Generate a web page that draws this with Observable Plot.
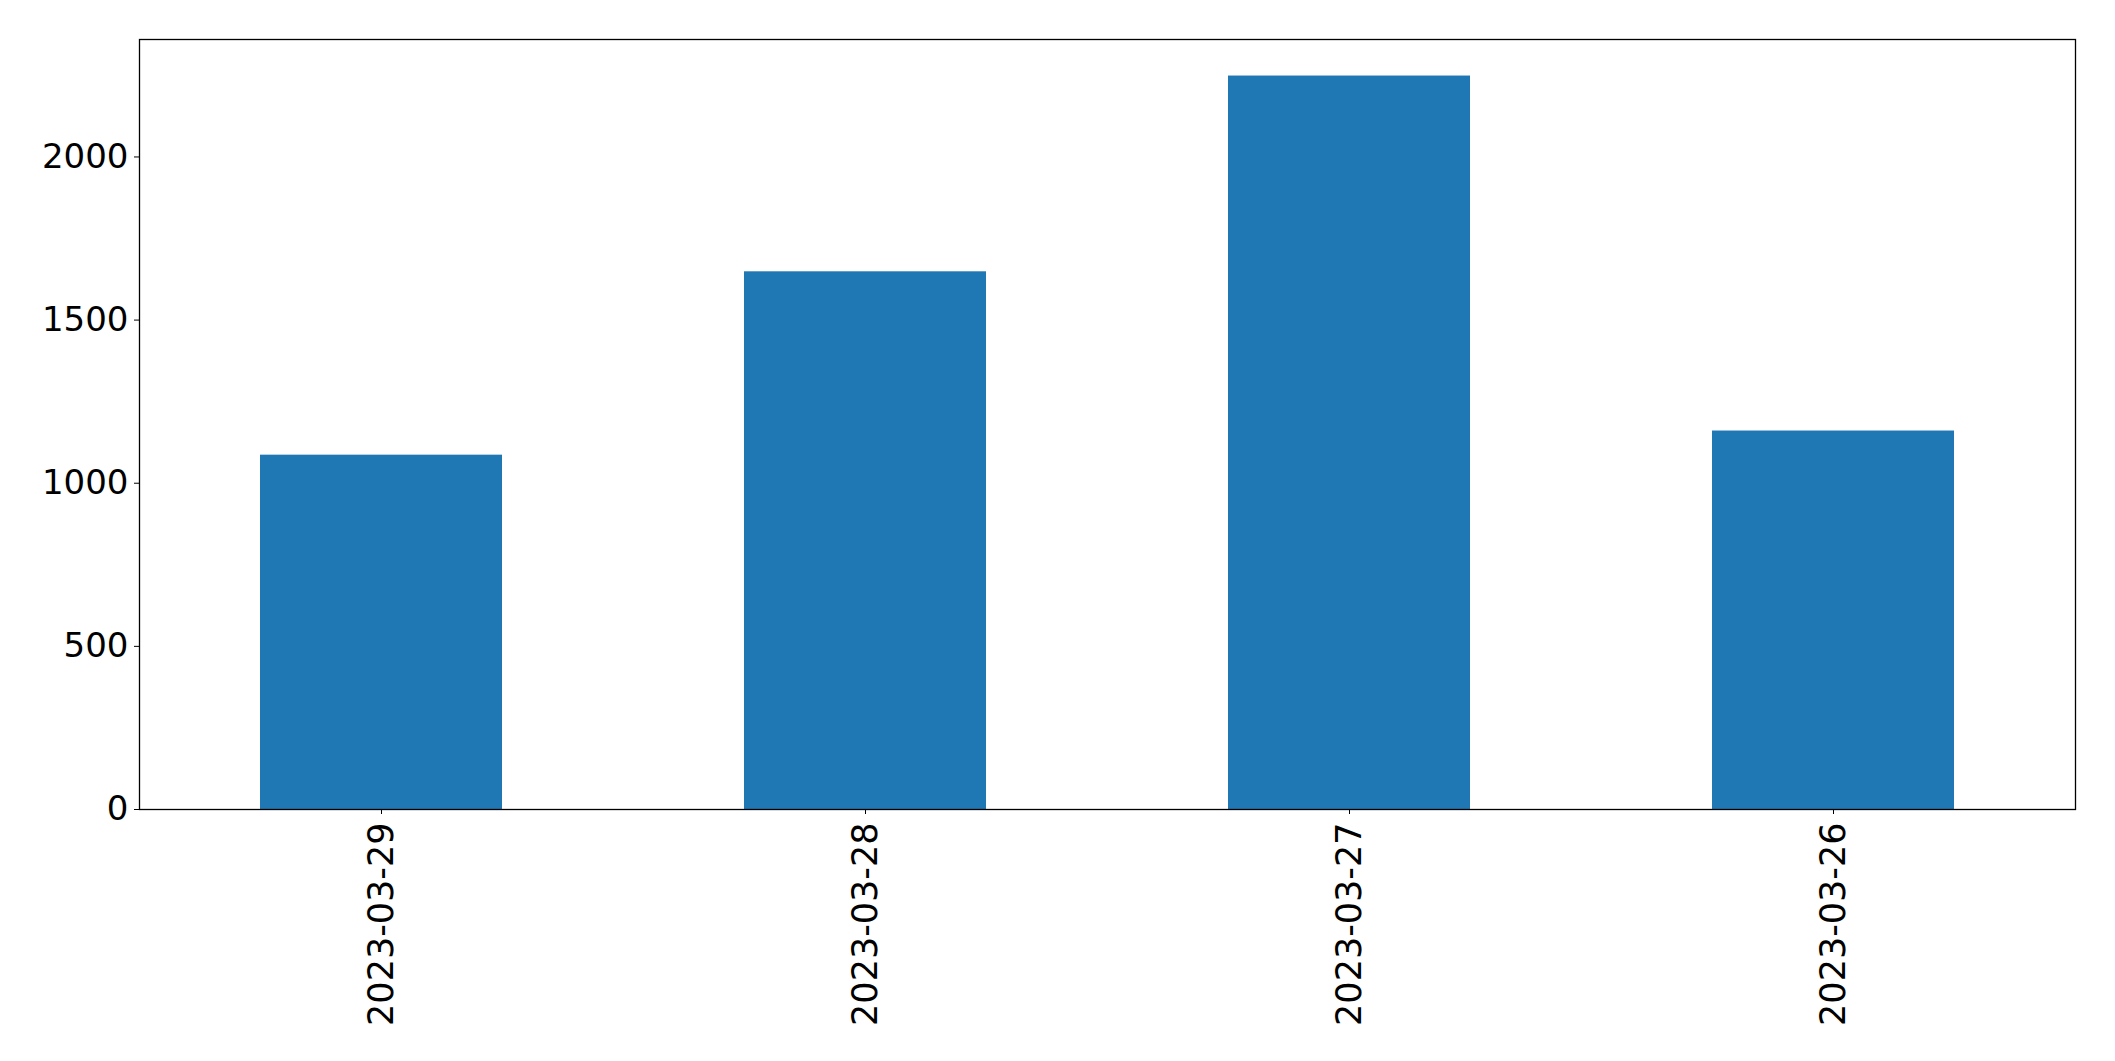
<!DOCTYPE html>
<html>
<head>
<meta charset="utf-8">
<script src="https://cdn.jsdelivr.net/npm/d3@7"></script>
<script src="https://cdn.jsdelivr.net/npm/@observablehq/plot@0.6"></script>
<style>
  html, body { margin: 0; padding: 0; background: #ffffff; }
</style>
</head>
<body>
<div id="chart"></div>
<script>
const dates = ["2023-03-29", "2023-03-28", "2023-03-27", "2023-03-26"];
const counts = [1086, 1648, 2248, 1160];
const yTicks = [0, 500, 1000, 1500, 2000];

const data = dates.map((d, i) => ({date: d, count: counts[i]}));

const chart = Plot.plot({
  width: 2115,
  height: 1061,
  marginLeft: 139,
  marginRight: 40,
  marginTop: 39,
  marginBottom: 252,
  style: {fontFamily: "'DejaVu Sans', sans-serif", fontSize: "34px", color: "black", background: "white"},
  x: {domain: dates, paddingInner: 0.5, paddingOuter: 0.25, label: null},
  y: {domain: [0, 2360], label: null},
  marks: [
    Plot.barY(data, {x: "date", y: "count", fill: "#1f77b4"}),
    Plot.frame({stroke: "black", strokeWidth: 1.3}),
    Plot.axisY({ticks: yTicks, tickSize: 5, tickPadding: 6, fontSize: 34, label: null, tickFormat: d => String(d), stroke: "black"}),
    Plot.axisX({tickSize: 5, tickPadding: 8, tickRotate: -90, fontSize: 35, label: null, stroke: "black"})
  ]
});
document.getElementById("chart").appendChild(chart);
</script>
</body>
</html>
